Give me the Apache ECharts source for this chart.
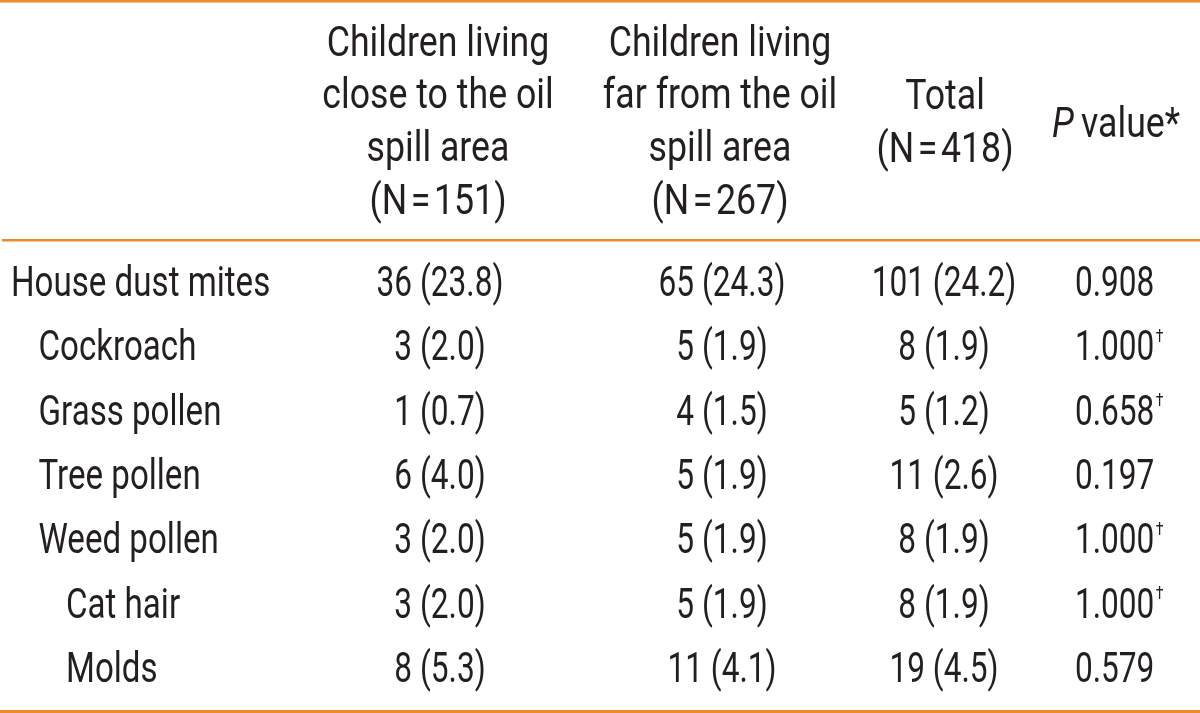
<!DOCTYPE html>
<html>
<head>
<meta charset="utf-8">
<script src="https://cdn.jsdelivr.net/npm/echarts@6/dist/echarts.min.js"></script>
<style>
html,body{margin:0;padding:0;background:#fff;}
#chart{width:1200px;height:713px;}
</style>
</head>
<body>
<div id="chart"></div>
<script>
// ---- data ----
const categories = ['House dust mites', 'Cockroach', 'Grass pollen', 'Tree pollen', 'Weed pollen', 'Cat hair', 'Molds'];
const indentLevels = [0, 1, 1, 1, 1, 2, 2];
const closeCount = [36, 3, 1, 6, 3, 3, 8];
const closePct = ['23.8', '2.0', '0.7', '4.0', '2.0', '2.0', '5.3'];
const farCount = [65, 5, 4, 5, 5, 5, 11];
const farPct = ['24.3', '1.9', '1.5', '1.9', '1.9', '1.9', '4.1'];
const totalCount = [101, 8, 5, 11, 8, 8, 19];
const totalPct = ['24.2', '1.9', '1.2', '2.6', '1.9', '1.9', '4.5'];
const pValues = ['0.908', '1.000', '0.658', '0.197', '1.000', '1.000', '0.579'];
const daggerFlags = [false, true, true, false, true, true, false];
const headerClose = ['Children living', 'close to the oil', 'spill area', '(N\u200A=\u200A151)'];
const headerFar = ['Children living', 'far from the oil', 'spill area', '(N\u200A=\u200A267)'];
const headerTotal = ['Total', '(N\u200A=\u200A418)'];

// ---- layout / style ----
const FONT = "Roboto, 'Liberation Sans', sans-serif";
const FS = 43;
const TXT = '#231f20';
const ORANGE = '#ef8a2c';
const colX = { label: 11, close: 440, far: 722, total: 944, p: 1075 };
const indentStep = 27.5;
const SX_HEAD = 0.83, SX_LABEL = 0.77, SX_NUM = 0.735;

const chart = echarts.init(document.getElementById('chart'), null, { renderer: 'canvas' });

function textSeries(name, x, texts, align, sx, xs) {
  return {
    type: 'custom',
    name: name,
    silent: true,
    coordinateSystem: 'cartesian2d',
    data: texts.map((t, i) => [xs ? xs[i] : x, i]),
    renderItem: function (params, api) {
      const pt = api.coord([api.value(0), api.value(1)]);
      return {
        type: 'text',
        x: pt[0], y: pt[1], scaleX: sx,
        style: {
          text: texts[params.dataIndex], x: 0, y: 0,
          align: align, verticalAlign: 'middle',
          fontFamily: FONT, fontSize: FS, fill: TXT,
          rich: {
            n: { fontFamily: FONT, fontSize: FS, fill: TXT, lineHeight: 44 },
            sup: { fontFamily: FONT, fontSize: 19, fill: TXT, verticalAlign: 'top', lineHeight: 20, padding: [0, 0, 0, 2] }
          }
        }
      };
    }
  };
}

const fmt = (n, p) => n + ' (' + p + ')';
const closeTexts = closeCount.map((n, i) => fmt(n, closePct[i]));
const farTexts = farCount.map((n, i) => fmt(n, farPct[i]));
const totalTexts = totalCount.map((n, i) => fmt(n, totalPct[i]));
const pTexts = pValues.map((v, i) => daggerFlags[i] ? '{n|' + v + '}{sup|\u2020}' : '{n|' + v + '}');
const labelXs = indentLevels.map(l => colX.label + l * indentStep);

function headerText(lines, x, y) {
  return {
    type: 'text', x: x, y: y, scaleX: SX_HEAD, silent: true,
    style: {
      text: lines.join('\n'), fontFamily: FONT, fontSize: FS, fill: TXT,
      align: 'center', verticalAlign: 'middle', lineHeight: 52.7
    }
  };
}

const option = {
  animation: false,
  backgroundColor: '#ffffff',
  grid: { left: 0, right: 0, top: 240, bottom: 2, containLabel: false },
  xAxis: { type: 'value', min: 0, max: 1200, show: false },
  yAxis: { type: 'value', inverse: true, min: -0.705, max: 6.615, show: false },
  series: [
    textSeries('label', 0, categories, 'left', SX_LABEL, labelXs),
    textSeries('close', colX.close, closeTexts, 'center', SX_NUM),
    textSeries('far', colX.far, farTexts, 'center', SX_NUM),
    textSeries('total', colX.total, totalTexts, 'center', SX_NUM),
    textSeries('p', colX.p, pTexts, 'left', SX_NUM)
  ],
  graphic: [
    { type: 'rect', shape: { x: 0, y: 0, width: 1200, height: 2.5 }, style: { fill: ORANGE }, silent: true },
    { type: 'rect', shape: { x: 2, y: 239, width: 1198, height: 2.5 }, style: { fill: ORANGE }, silent: true },
    { type: 'rect', shape: { x: 0, y: 710, width: 1200, height: 3 }, style: { fill: ORANGE }, silent: true },
    headerText(headerClose, 438, 124),
    headerText(headerFar, 720, 124),
    headerText(headerTotal, 945, 124.5),
    {
      type: 'text', x: 1116, y: 126, scaleX: SX_HEAD, silent: true,
      style: {
        text: '{i|P}{r|\u2009value*}', align: 'center', verticalAlign: 'middle',
        rich: {
          i: { fontFamily: FONT, fontSize: FS, fontStyle: 'italic', fill: TXT },
          r: { fontFamily: FONT, fontSize: FS, fill: TXT }
        }
      }
    }
  ]
};
chart.setOption(option);
</script>
</body>
</html>
